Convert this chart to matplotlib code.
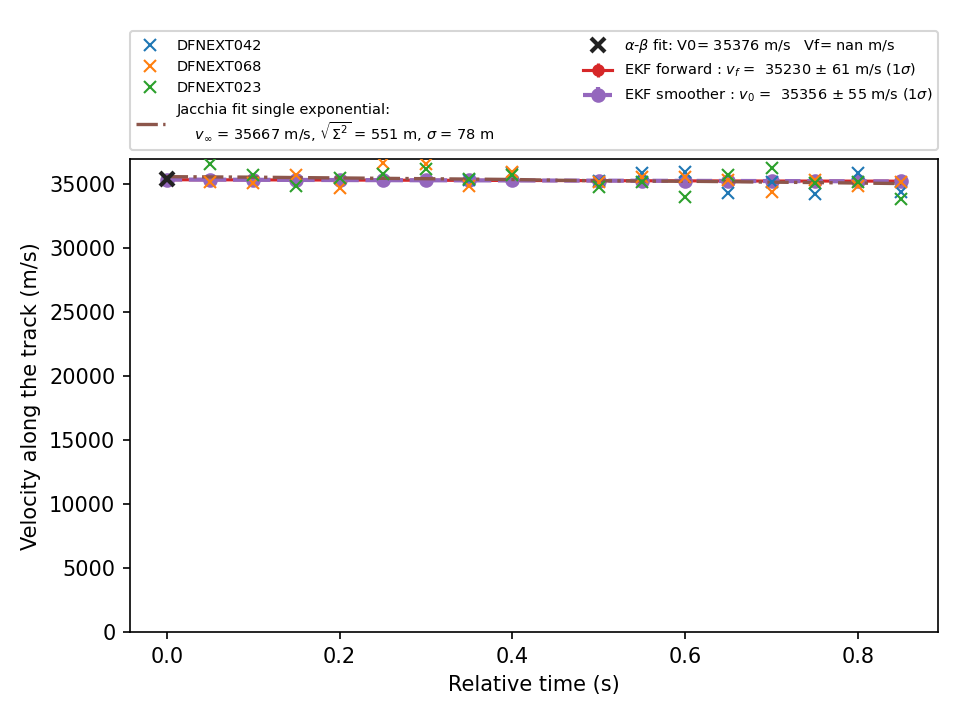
import numpy as np
import matplotlib
matplotlib.use('Agg')
import matplotlib.pyplot as plt

# observation times (s); no points at 0.45
t_obs = [0.0, 0.05, 0.1, 0.15, 0.2, 0.25, 0.3, 0.35, 0.4,
         0.5, 0.55, 0.6, 0.65, 0.7, 0.75, 0.8, 0.85]

nan = np.nan
v_042 = [nan, nan, nan, nan, nan, nan, nan, 35300, 35830,
         35250, 35830, 35960, 34320, 35200, 34200, 35830, 34400]
v_068 = [nan, 35130, 35050, 35700, 34660, 36610, 36560, 34840, 35960,
         35180, 35570, 35520, 35300, 34400, 35310, 34840, 35180]
v_023 = [nan, 36560, 35700, 34870, 35440, 35780, 36170, 35360, 35700,
         34740, 35130, 34010, 35700, 36220, 35050, 35180, 33800]

# Jacchia fit
t_jac = [0.0, 0.05, 0.1, 0.15, 0.2, 0.25, 0.3, 0.35, 0.4, 0.45,
         0.5, 0.55, 0.6, 0.65, 0.7, 0.75, 0.8, 0.85]
v_jac = [35580, 35560, 35540, 35510, 35480, 35450, 35420, 35390, 35360, 35300,
         35260, 35240, 35220, 35190, 35150, 35120, 35080, 35040]

# alpha-beta fit
t_ab = [0.0]
v_ab = [35376]

# EKF
v_fwd = [35340, 35335, 35330, 35322, 35315, 35305, 35298, 35290, 35282,
         35268, 35260, 35252, 35245, 35240, 35236, 35232, 35230]
err_fwd = [61] * len(t_obs)
v_smo = [35356, 35345, 35335, 35325, 35315, 35305, 35298, 35290, 35282,
         35268, 35260, 35252, 35244, 35236, 35228, 35218, 35208]
err_smo = [55] * len(t_obs)

fig = plt.figure(figsize=(6.4, 4.8), dpi=150)
ax = fig.add_axes([0.1354, 0.122, 0.8417, 0.657])

h_fwd = ax.errorbar(t_obs, v_fwd, yerr=err_fwd, fmt='-o', color='tab:red', lw=1.5, ms=5,
                    label=r'EKF forward : $v_f$ =  35230 $\pm$ 61 m/s (1$\sigma$)')
h_smo = ax.errorbar(t_obs, v_smo, yerr=err_smo, fmt='--o', color='tab:purple', lw=2, ms=6,
                    label=r'EKF smoother : $v_0$ =  35356 $\pm$ 55 m/s (1$\sigma$)')
h_jac, = ax.plot(t_jac, v_jac, '-.', color='tab:brown', lw=1.6, zorder=3,
                 label='Jacchia fit single exponential:\n    $v_{\\infty}$ = 35667 m/s, '
                       '$\\sqrt{\\Sigma^2}$ = 551 m, $\\sigma$ = 78 m')
h1, = ax.plot(t_obs, v_042, 'x', color='tab:blue', ms=6, zorder=4, label='DFNEXT042')
h2, = ax.plot(t_obs, v_068, 'x', color='tab:orange', ms=6, zorder=4, label='DFNEXT068')
h3, = ax.plot(t_obs, v_023, 'x', color='tab:green', ms=6, zorder=4, label='DFNEXT023')
h_ab, = ax.plot(t_ab, v_ab, 'x', color='#222222', ms=7, mew=2, zorder=5,
                label=r'$\alpha$-$\beta$ fit: V0= 35376 m/s   Vf= nan m/s')

ax.set_ylim(0, 36950)
ax.set_xlabel('Relative time (s)')
ax.set_ylabel('Velocity along the track (m/s)')

ax.legend(handles=[h1, h2, h3, h_jac, h_ab, h_fwd, h_smo],
          bbox_to_anchor=(0, 1.02, 1, 0.2), loc='lower left', mode='expand',
          ncol=2, borderaxespad=0, fontsize='x-small')

fig.savefig('out.png', dpi=150)
